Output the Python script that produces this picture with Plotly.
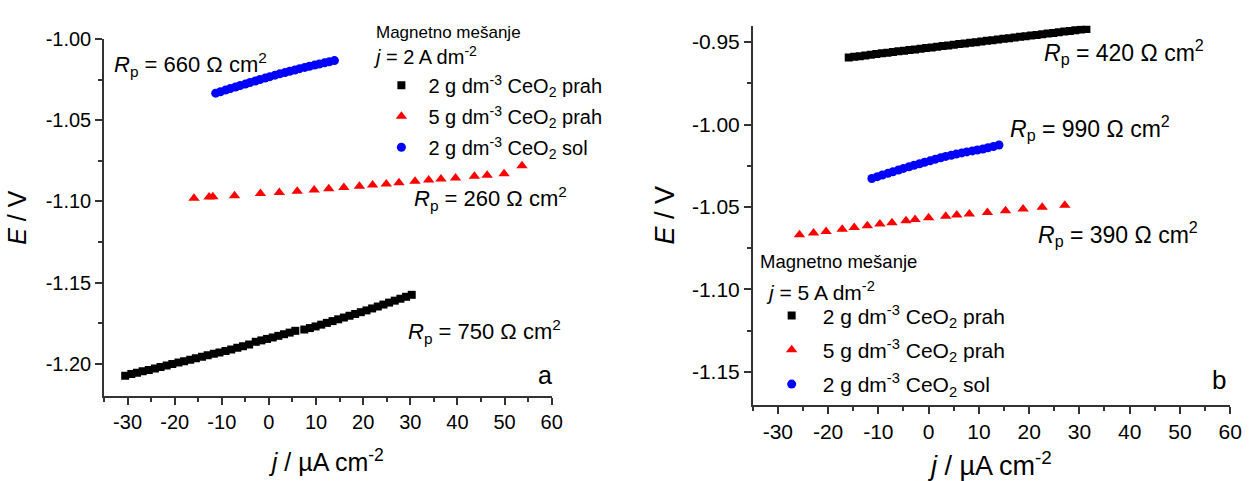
import plotly.graph_objects as go

W, H = 1256, 481
FONT = "Liberation Sans, Arial, sans-serif"

# ---------------- data: panel a (j = 2 A dm-2) ----------------
a_sq_x = [-30.5, -29.2, -28.0, -26.8, -25.5, -24.2, -23.0, -21.7, -20.5, -19.2,
          -18.0, -16.7, -15.5, -14.2, -13.0, -11.7, -10.5, -9.2, -8.0, -6.7,
          -5.5, -4.2, -2.8, -1.6, -0.4, 0.8, 2.0, 3.2, 4.4, 5.6,
          7.5, 8.7, 9.9, 11.1, 12.3, 13.5, 14.7, 15.9, 17.1, 18.3,
          19.5, 20.7, 21.9, 23.1, 24.3, 25.5, 26.7, 27.9, 29.1, 30.3]
a_sq_y = [-1.2075, -1.2065, -1.2057, -1.2048, -1.2039, -1.2030, -1.2021, -1.2012, -1.2003, -1.1994,
          -1.1985, -1.1976, -1.1967, -1.1958, -1.1949, -1.1940, -1.1931, -1.1922, -1.1913, -1.1903,
          -1.1893, -1.1883, -1.1866, -1.1857, -1.1848, -1.1839, -1.1829, -1.1819, -1.1809, -1.1798,
          -1.1790, -1.1781, -1.1771, -1.1760, -1.1749, -1.1738, -1.1727, -1.1716, -1.1705, -1.1694,
          -1.1683, -1.1672, -1.1660, -1.1648, -1.1636, -1.1624, -1.1612, -1.1600, -1.1588, -1.1576]

a_tri_x = [-15.9, -12.7, -11.9, -7.3, -1.8, 2.2, 6.0, 9.6, 12.7, 15.9, 19.2,
           22.0, 24.9, 27.6, 31.0, 33.9, 36.5, 39.6, 43.6, 46.3, 49.9, 53.7]
a_tri_y = [-1.0980, -1.0972, -1.0971, -1.0965, -1.0951, -1.0944, -1.0937, -1.0929, -1.0921, -1.0914, -1.0906,
           -1.0899, -1.0892, -1.0885, -1.0876, -1.0868, -1.0862, -1.0855, -1.0845, -1.0838, -1.0829, -1.0780]

a_cir_x = [-11.3, -10.3, -9.2, -8.2, -7.1, -6.1, -5.0, -4.0, -2.9, -1.9, -0.8, 0.2, 1.3,
           2.3, 3.4, 4.4, 5.5, 6.5, 7.6, 8.6, 9.7, 10.7, 11.8, 12.8, 13.9]
a_cir_y = [-1.0332, -1.0323, -1.0313, -1.0304, -1.0294, -1.0285, -1.0276, -1.0266, -1.0257, -1.0248,
           -1.0239, -1.0230, -1.0221, -1.0213, -1.0205, -1.0197, -1.0189, -1.0181, -1.0173, -1.0166,
           -1.0159, -1.0152, -1.0145, -1.0138, -1.0131]

# ---------------- data: panel b (j = 5 A dm-2) ----------------
b_sq_x = [-15.9, -14.8, -13.7, -12.6, -11.5, -10.4, -9.3, -8.2, -7.1, -6.0, -4.9,
          -3.8, -2.7, -1.6, -0.5, 0.6, 1.7, 2.8, 3.9, 5.0, 6.1, 7.2, 8.3, 9.4,
          10.5, 11.6, 12.7, 13.8, 14.9, 16.0, 17.1, 18.2, 19.3, 20.4, 21.5, 22.6,
          23.7, 24.8, 25.9, 27.0, 28.1, 29.2, 30.3, 31.4]
b_sq_y = [-0.9593, -0.9589, -0.9585, -0.9581, -0.9576, -0.9572, -0.9568, -0.9564, -0.9560, -0.9556, -0.9552,
          -0.9548, -0.9544, -0.9540, -0.9536, -0.9532, -0.9528, -0.9524, -0.9520, -0.9516, -0.9512, -0.9508,
          -0.9504, -0.9500, -0.9496, -0.9492, -0.9488, -0.9484, -0.9480, -0.9476, -0.9472, -0.9468, -0.9464,
          -0.9460, -0.9456, -0.9452, -0.9448, -0.9444, -0.9440, -0.9436, -0.9432, -0.9428, -0.9424, -0.9420]

b_tri_x = [-25.7, -22.9, -20.4, -17.2, -14.8, -12.2, -9.7, -7.3, -4.5, -2.7,
           0.0, 3.4, 5.6, 8.1, 11.7, 15.3, 18.8, 22.6, 27.1]
b_tri_y = [-1.0669, -1.0658, -1.0648, -1.0635, -1.0625, -1.0614, -1.0604, -1.0595, -1.0583, -1.0576,
           -1.0565, -1.0556, -1.0549, -1.0543, -1.0533, -1.0523, -1.0513, -1.0502, -1.0490]

b_cir_x = [-11.3, -10.2, -9.2, -8.1, -7.1, -6.0, -5.0, -3.9, -2.9, -1.8, -0.8, 0.3, 1.3,
           2.4, 3.4, 4.5, 5.5, 6.6, 7.6, 8.7, 9.7, 10.8, 11.8, 12.9, 14.0]
b_cir_y = [-1.0327, -1.0316, -1.0306, -1.0296, -1.0286, -1.0276, -1.0266, -1.0256, -1.0247, -1.0238,
           -1.0229, -1.0220, -1.0211, -1.0201, -1.0193, -1.0186, -1.0179, -1.0172, -1.0166, -1.0160,
           -1.0154, -1.0148, -1.0141, -1.0133, -1.0124]

series_names = ["2 g dm<sup>-3</sup> CeO<sub>2</sub> prah",
                "5 g dm<sup>-3</sup> CeO<sub>2</sub> prah",
                "2 g dm<sup>-3</sup> CeO<sub>2</sub> sol"]

x_tickvals = [-30, -20, -10, 0, 10, 20, 30, 40, 50, 60]
x_ticktext = ["-30", "-20", "-10", "0", "10", "20", "30", "40", "50", "60"]
ya_tickvals = [-1.20, -1.15, -1.10, -1.05, -1.00]
ya_ticktext = ["-1.20", "-1.15", "-1.10", "-1.05", "-1.00"]
yb_tickvals = [-1.15, -1.10, -1.05, -1.00, -0.95]
yb_ticktext = ["-1.15", "-1.10", "-1.05", "-1.00", "-0.95"]

# ---------------- figure ----------------
def fx(px):
    return px / W

def fy(py):
    return 1 - py / H

fig = go.Figure()

sq = dict(symbol="square", size=8, color="#000000")
tri = dict(symbol="triangle-up", size=10, color="#ff0000")
cir = dict(symbol="circle", size=9, color="#0000ff")

panels = [
    ("x", "y", "legend", [(a_sq_x, a_sq_y, sq), (a_tri_x, a_tri_y, tri), (a_cir_x, a_cir_y, cir)]),
    ("x2", "y2", "legend2", [(b_sq_x, b_sq_y, sq), (b_tri_x, b_tri_y, tri), (b_cir_x, b_cir_y, cir)]),
]
for xa, ya, lg, sets in panels:
    for i, (xs, ys, mk) in enumerate(sets):
        fig.add_trace(go.Scatter(
            x=xs, y=ys, mode="markers", marker=dict(mk, line=dict(width=0)),
            name=series_names[i], xaxis=xa, yaxis=ya, legend=lg,
            legendgroup=f"{lg}_{i}", showlegend=True))


def axis_style(tick_size, title_size):
    return dict(
        showline=True, linecolor="#333333", linewidth=1.5, mirror=False,
        showgrid=False, zeroline=False, ticks="outside", ticklen=7, tickwidth=1.5,
        tickcolor="#333333", tickfont=dict(family=FONT, size=tick_size, color="#000000"),
        title_font=dict(family=FONT, size=title_size, color="#000000"),
    )


xt = "<i>j</i> / \u00b5A cm<sup>-2</sup>"
yt = "<i>E</i> / V"

fig.update_layout(
    width=W, height=H,
    margin=dict(l=0, r=0, t=0, b=0),
    paper_bgcolor="white", plot_bgcolor="white",
    font=dict(family=FONT, color="#000000"),
    xaxis=dict(axis_style(20, 25), domain=[fx(105), fx(557)], range=[-35, 60], anchor="y",
               tickmode="array", tickvals=x_tickvals, ticktext=x_ticktext,
               minor=dict(tickmode="linear", tick0=-35, dtick=5, ticklen=4, tickwidth=1.5,
                          tickcolor="#333333", ticks="outside"),
               title=dict(text=xt, standoff=22)),
    yaxis=dict(axis_style(20, 25), domain=[fy(394), fy(29)], range=[-1.22, -1.00], anchor="x",
               tickmode="array", tickvals=ya_tickvals, ticktext=ya_ticktext,
               minor=dict(tickmode="linear", tick0=-1.225, dtick=0.025, ticklen=4, tickwidth=1.5,
                          tickcolor="#333333", ticks="outside"),
               title=dict(text=yt, standoff=12)),
    xaxis2=dict(axis_style(21, 27), domain=[fx(760), fx(1242)], range=[-35, 60], anchor="y2",
                tickmode="array", tickvals=x_tickvals, ticktext=x_ticktext,
                minor=dict(tickmode="linear", tick0=-35, dtick=5, ticklen=4, tickwidth=1.5,
                           tickcolor="#333333", ticks="outside"),
                title=dict(text=xt, standoff=16)),
    yaxis2=dict(axis_style(21, 27), domain=[fy(403), fy(15)], range=[-1.17, -0.94], anchor="x2",
                tickmode="array", tickvals=yb_tickvals, ticktext=yb_ticktext,
                minor=dict(tickmode="linear", tick0=-1.175, dtick=0.025, ticklen=4, tickwidth=1.5,
                           tickcolor="#333333", ticks="outside"),
                title=dict(text=yt, standoff=9)),
    legend=dict(x=fx(378), y=fy(56), xanchor="left", yanchor="top", itemwidth=44,
                bgcolor="rgba(0,0,0,0)", borderwidth=0, tracegroupgap=2,
                font=dict(family=FONT, size=20, color="#000000")),
    legend2=dict(x=fx(768), y=fy(291), xanchor="left", yanchor="top", itemwidth=52,
                 bgcolor="rgba(0,0,0,0)", borderwidth=0, tracegroupgap=4,
                 font=dict(family=FONT, size=21, color="#000000")),
)

def note(text, px, py, size=22, anchor="left"):
    fig.add_annotation(text=text, x=fx(px), y=fy(py), xref="paper", yref="paper",
                       xanchor=anchor, yanchor="middle", showarrow=False,
                       font=dict(family=FONT, size=size, color="#000000"))

rp = "<i>R</i><sub>p</sub> = {} \u03a9 cm<sup>2</sup>"
note(rp.format(660), 113, 55)
note(rp.format(260), 416, 192)
note(rp.format(750), 410, 328)
note("a", 541, 373, size=25)
note("Magnetno me\u0161anje", 378, 22, size=17)
note("<i>j</i> = 2 A dm<sup>-2</sup>", 375, 46, size=20)

note(rp.format(420), 1052, 42, size=23)
note(rp.format(990), 1018, 120, size=23)
note(rp.format(390), 1046, 228, size=23)
note("b", 1222, 378, size=26)
note("Magnetno me\u0161anje", 765, 256, size=18.5)
note("<i>j</i> = 5 A dm<sup>-2</sup>", 771, 287, size=21)

fig.write_html("out.html", config={"displayModeBar": False},
               post_script="document.body.style.margin='0';document.body.style.overflow='hidden';")
